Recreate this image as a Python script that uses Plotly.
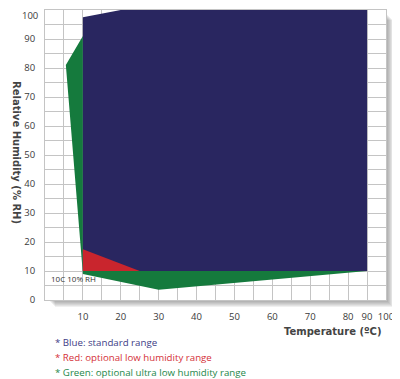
import plotly.graph_objects as go

# ---- data (temperature in °C, relative humidity in % RH) ----
blue_temp = [10, 10, 20, 90, 90, 10]
blue_rh = [10, 97.5, 100, 100, 10, 10]

red_temp = [10, 10, 25, 10]
red_rh = [10, 17.5, 10, 10]

green_temp = [10, 5.5, 10, 30, 90, 10, 10]
green_rh = [91, 81, 9, 3.5, 10, 10, 91]

x_tick_labels = [10, 20, 30, 40, 50, 60, 70, 80, 90, 100]
y_tick_labels = [0, 10, 20, 30, 40, 50, 60, 70, 80, 90, 100]

legend_lines = [
    ("* Blue: standard range", "#3d3b85"),
    ("* Red: optional low humidity range", "#d42f38"),
    ("* Green: optional ultra low humidity range", "#23874a"),
]


# The chart's temperature axis is linear up to 80 °C, then compressed (10 °C per half step).
def temp_to_axis(t):
    return t if t <= 80 else 80 + (t - 80) / 2


def conv(ts):
    return [temp_to_axis(t) for t in ts]


BLUE = "#292660"
RED = "#c9252d"
GREEN = "#157a3d"

OFF = 8  # page body margin
W, H = 400 - OFF, 379 - OFF
L, T = 45 - OFF, 10 - OFF
PW, PH = 341, 290
R, B = W - L - PW, H - T - PH


def px(xp):  # page pixel -> paper x
    return (xp - OFF - L) / PW


def py(yp):  # page pixel -> paper y
    return (T + PH - (yp - OFF)) / PH


fig = go.Figure()
fig.add_trace(go.Scatter(x=conv(green_temp), y=green_rh, fill="toself", mode="lines",
                         line=dict(width=0, color=GREEN), fillcolor=GREEN, hoverinfo="skip"))
fig.add_trace(go.Scatter(x=conv(blue_temp), y=blue_rh, fill="toself", mode="lines",
                         line=dict(width=0, color=BLUE), fillcolor=BLUE, hoverinfo="skip"))
fig.add_trace(go.Scatter(x=conv(red_temp), y=red_rh, fill="toself", mode="lines",
                         line=dict(width=0, color=RED), fillcolor=RED, hoverinfo="skip"))

# ticks: grid every 5 units, labels on the chart's labelled positions
x_grid = list(range(0, 91, 5))
label_pos = {temp_to_axis(t): str(t) for t in x_tick_labels}
x_text = [label_pos.get(v, "") for v in x_grid]
y_grid = list(range(0, 101, 5))
y_max = max(y_tick_labels)
# top label is drawn as an annotation so it is not clipped by the figure's top edge
y_text = [str(v) if (v in y_tick_labels and v != y_max) else "" for v in y_grid]

tick_font = dict(family="Open Sans, Arial", size=9.5, color="#3a3a3a")
fig.update_xaxes(range=[0, 90], tickvals=x_grid, ticktext=x_text, showgrid=True,
                 gridcolor="#c4c4c4", gridwidth=1, zeroline=False, showline=True,
                 linecolor="#c4c4c4", mirror=True, ticks="", ticklabelstandoff=8,
                 automargin=False, ticklabeloverflow="allow", tickfont=tick_font)
fig.update_yaxes(range=[0, 100], tickvals=y_grid, ticktext=y_text, showgrid=True,
                 gridcolor="#c4c4c4", gridwidth=1, zeroline=False, showline=True,
                 linecolor="#c4c4c4", mirror=True, ticks="", ticklabelstandoff=7,
                 automargin=False, ticklabeloverflow="allow", tickfont=tick_font)

# soft drop shadow (right and bottom), then white plot face on top of it
shapes = []
for d in range(1, 8):
    shapes.append(dict(type="rect", xref="paper", yref="paper", layer="below",
                       x0=(3 + d) / PW, x1=1 + d / PW, y0=-d / PH, y1=1 - (3 + d) / PH,
                       fillcolor="rgba(90,90,90,0.09)", line=dict(width=0)))
shapes.append(dict(type="rect", xref="paper", yref="paper", layer="below",
                   x0=0, x1=1, y0=0, y1=1, fillcolor="white", line=dict(width=0)))

annotations = [
    dict(x=0, y=1, xref="paper", yref="paper", text=str(y_max), showarrow=False,
         xanchor="right", yanchor="top", xshift=-5, yshift=3, font=tick_font),
    dict(x=1, y=7.3, xref="x", yref="y", text="10C 10% RH", showarrow=False,
         xanchor="left", yanchor="middle",
         font=dict(family="Open Sans, Arial", size=8, color="#333333")),
    dict(x=px(17), y=py(152), xref="paper", yref="paper",
         text="<b>Relative Humidity (% RH)</b>",
         textangle=90, showarrow=False, xanchor="center", yanchor="middle",
         font=dict(family="DejaVu Sans, Arial", size=10, color="#444444")),
    dict(x=px(384), y=py(331), xref="paper", yref="paper",
         text="<b>Temperature (ºC)</b>",
         showarrow=False, xanchor="right", yanchor="middle",
         font=dict(family="DejaVu Sans, Arial", size=10, color="#444444")),
]
for i, (txt, col) in enumerate(legend_lines):
    annotations.append(dict(x=px(53), y=py(342 + i * 15), xref="paper", yref="paper",
                            text=txt, showarrow=False, xanchor="left", yanchor="middle",
                            font=dict(family="Open Sans, Arial", size=9.7, color=col)))

fig.update_layout(width=W, height=H, margin=dict(l=L, r=R, t=T, b=B, autoexpand=False),
                  plot_bgcolor="rgba(0,0,0,0)", paper_bgcolor="white", showlegend=False,
                  shapes=shapes, annotations=annotations)

fig.write_html("out.html")
